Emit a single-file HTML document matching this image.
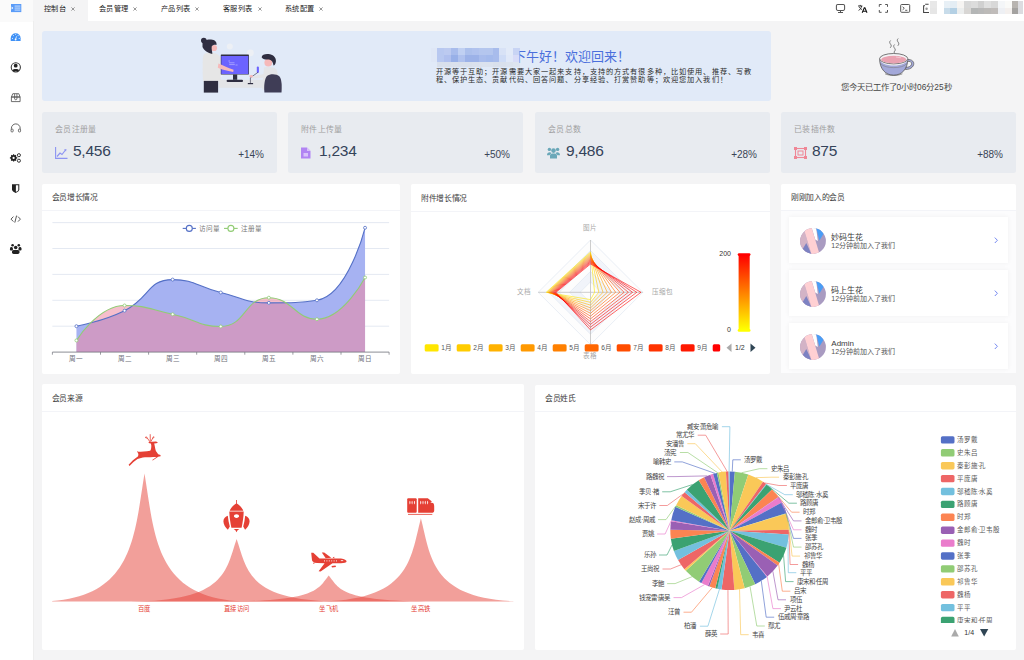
<!DOCTYPE html>
<html lang="zh-CN"><head><meta charset="utf-8"><style>
*{margin:0;padding:0;box-sizing:border-box}
html,body{width:1024px;height:660px;overflow:hidden;background:#f4f4f5;font-family:'Liberation Sans',sans-serif;color:#303133;font-weight:350}
.a{position:absolute;white-space:nowrap}
.card{position:absolute;background:#fff;border-radius:2px}
.stat{position:absolute;background:#e8ebf0;border-radius:2.5px}
.ttl{position:absolute;font-size:7.8px;letter-spacing:-0.32px;color:#3d3d3d;line-height:1}
.sep{position:absolute;height:1px;background:#f3f4f8}
svg{position:absolute;overflow:visible}
</style></head><body>
<div class="a" style="left:0;top:0;width:33.5px;height:660px;background:#fff;border-right:0.5px solid #eeeeee"></div>
<div class="a" style="left:0;top:0;width:33px;height:22px;background:#fafafa"></div>
<svg style="left:10.6px;top:3.8px" width="11" height="9" viewBox="0 0 11 9"><rect x="0" y="0" width="10.3" height="8.1" fill="#5a9cf8"/><rect x="3.6" y="1.6" width="5.8" height="0.9" fill="#d6e7fd"/><rect x="3.6" y="3.6" width="5.8" height="0.9" fill="#d6e7fd"/><rect x="3.6" y="5.6" width="5.8" height="0.9" fill="#d6e7fd"/><path d="M0.6 2.6 L2.3 4.05 L0.6 5.5Z" fill="#fff"/></svg>
<div class="a" style="left:33px;top:0;width:991px;height:21px;background:#fff"></div>
<div class="a" style="left:33px;top:0;width:55px;height:21px;background:#f4f4f5"></div>
<div class="a" style="left:44px;top:1.8px;font-size:7.2px;letter-spacing:0.4px;line-height:14px;color:#222;font-weight:400">控制台</div>
<svg style="left:70.6px;top:7px" width="4" height="4" viewBox="0 0 4 4"><path d="M0.4 0.4 L3.6 3.6 M3.6 0.4 L0.4 3.6" stroke="#777" stroke-width="0.75"/></svg>
<div class="a" style="left:99px;top:1.8px;font-size:7.2px;letter-spacing:0.4px;line-height:14px;color:#222;font-weight:400">会员管理</div>
<svg style="left:132.8px;top:7px" width="4" height="4" viewBox="0 0 4 4"><path d="M0.4 0.4 L3.6 3.6 M3.6 0.4 L0.4 3.6" stroke="#777" stroke-width="0.75"/></svg>
<div class="a" style="left:161px;top:1.8px;font-size:7.2px;letter-spacing:0.4px;line-height:14px;color:#222;font-weight:400">产品列表</div>
<svg style="left:195px;top:7px" width="4" height="4" viewBox="0 0 4 4"><path d="M0.4 0.4 L3.6 3.6 M3.6 0.4 L0.4 3.6" stroke="#777" stroke-width="0.75"/></svg>
<div class="a" style="left:223px;top:1.8px;font-size:7.2px;letter-spacing:0.4px;line-height:14px;color:#222;font-weight:400">客服列表</div>
<svg style="left:257.7px;top:7px" width="4" height="4" viewBox="0 0 4 4"><path d="M0.4 0.4 L3.6 3.6 M3.6 0.4 L0.4 3.6" stroke="#777" stroke-width="0.75"/></svg>
<div class="a" style="left:285px;top:1.8px;font-size:7.2px;letter-spacing:0.4px;line-height:14px;color:#222;font-weight:400">系统配置</div>
<svg style="left:319px;top:7px" width="4" height="4" viewBox="0 0 4 4"><path d="M0.4 0.4 L3.6 3.6 M3.6 0.4 L0.4 3.6" stroke="#777" stroke-width="0.75"/></svg>
<svg style="left:0;top:0" width="33" height="260" viewBox="0 0 33 260"><path d="M10.7 41 L10.7 38.2 A4.95 4.95 0 0 1 20.6 38.2 L20.6 41 Z" fill="#3f91f6"/><circle cx="12.4" cy="38.4" r="0.55" fill="#dbeafe"/><circle cx="13.4" cy="35.6" r="0.55" fill="#dbeafe"/><circle cx="15.65" cy="34.5" r="0.55" fill="#dbeafe"/><circle cx="18.1" cy="35.6" r="0.55" fill="#dbeafe"/><circle cx="19.2" cy="38.4" r="0.55" fill="#dbeafe"/><path d="M15.6 39.3 L16.6 36.3" stroke="#e8f1fe" stroke-width="0.8"/><circle cx="15.6" cy="39.5" r="0.9" fill="#fff"/></svg>
<svg style="left:0;top:0" width="33" height="260" viewBox="0 0 33 260"><circle cx="15.8" cy="67.3" r="4.6" fill="none" stroke="#333" stroke-width="1.05"/><circle cx="15.7" cy="65.7" r="1.9" fill="#222"/><path d="M12.6 70.4 C13 68.6 18.6 68.6 19 70.4 C18 71.6 13.6 71.6 12.6 70.4Z" fill="#222"/></svg>
<svg style="left:0;top:0" width="33" height="260" viewBox="0 0 33 260"><path d="M11.4 97 L12.8 93.7 L18.8 93.7 L20.1 97 Z M11.4 97 L20.1 97 L20.1 101.6 L11.4 101.6 Z" fill="none" stroke="#555" stroke-width="0.85"/><path d="M14.6 93.8 L14.6 99 C14.6 100 16.9 100 16.9 99 L16.9 93.8" fill="none" stroke="#555" stroke-width="0.8"/></svg>
<svg style="left:0;top:0" width="33" height="260" viewBox="0 0 33 260"><path d="M11.4 129.5 L11.4 128.3 A4.4 4.4 0 0 1 20.2 128.3 L20.2 129.5" fill="none" stroke="#555" stroke-width="0.9"/><rect x="11" y="129" width="2.2" height="3" rx="1" fill="none" stroke="#555" stroke-width="0.8"/><rect x="18.4" y="129" width="2.2" height="3" rx="1" fill="none" stroke="#555" stroke-width="0.8"/></svg>
<svg style="left:0;top:0" width="33" height="260" viewBox="0 0 33 260"><g fill="#222"><circle cx="13.6" cy="157.9" r="2.9"/><path d="M13 154.2 L14.2 154.2 L14.2 161.6 L13 161.6Z M9.9 157.3 L17.3 157.3 L17.3 158.5 L9.9 158.5Z" /><path d="M10.9 155.6 L11.7 154.8 L16.4 160.2 L15.6 161Z M16.3 155.6 L15.5 154.8 L10.8 160.2 L11.6 161Z"/></g><circle cx="13.6" cy="157.9" r="1.1" fill="#fff"/><circle cx="18.9" cy="155.2" r="1.55" fill="none" stroke="#333" stroke-width="1"/><circle cx="18.9" cy="160.7" r="1.55" fill="none" stroke="#333" stroke-width="1"/></svg>
<svg style="left:0;top:0" width="33" height="260" viewBox="0 0 33 260"><path d="M12 184.2 L19.3 184.2 L19.3 189.5 C19.3 191 17.5 192.2 15.65 192.9 C13.8 192.2 12 191 12 189.5Z" fill="#222"/><path d="M15.9 185.3 L18.3 185.3 L18.3 189.4 C18.3 190.4 17.2 191.3 15.9 191.8Z" fill="#fff"/></svg>
<svg style="left:0;top:0" width="33" height="260" viewBox="0 0 33 260"><path d="M13.4 216.6 L11 219.1 L13.4 221.6 M18 216.6 L20.4 219.1 L18 221.6 M16.6 215.6 L14.8 222.6" fill="none" stroke="#444" stroke-width="0.9"/></svg>
<svg style="left:0;top:0" width="33" height="260" viewBox="0 0 33 260"><g fill="#222"><circle cx="12.6" cy="245.2" r="1.3"/><circle cx="18.8" cy="245.2" r="1.3"/><circle cx="15.7" cy="247.5" r="1.75"/><circle cx="11.4" cy="248.4" r="1.4"/><circle cx="20" cy="248.4" r="1.4"/><rect x="12" y="250" width="7.5" height="3.9" rx="1.6"/><rect x="9.9" y="248.2" width="3" height="2.2" rx="1"/><rect x="18.5" y="248.2" width="3" height="2.2" rx="1"/></g></svg>
<svg style="left:0;top:0" width="1024" height="22" viewBox="0 0 1024 22"><g fill="none" stroke="#555" stroke-width="1.05"><rect x="836.4" y="4.4" width="8.2" height="6" rx="1.3"/><path d="M840.5 10.4 L840.5 12.2"/></g><path d="M838 12.5 L843 12.5" stroke="#444" stroke-width="0.9"/><path d="M858 6 L862.4 6 M860.2 4.9 L860.2 6 M858.6 10.4 C860.3 9.4 861.4 7.6 861.6 6 M859.2 7.2 C860 8.5 861 9.2 862 9.5" fill="none" stroke="#222" stroke-width="0.9"/><path d="M862.2 12.8 L864.3 7.8 L864.9 7.8 L867 12.8 M863 11.2 L866.2 11.2" fill="none" stroke="#111" stroke-width="1.1"/><path d="M879.3 6.8 L879.3 4.5 L881.6 4.5 M885.2 4.5 L887.5 4.5 L887.5 6.8 M887.5 10 L887.5 12.3 L885.2 12.3 M881.6 12.3 L879.3 12.3 L879.3 10" fill="none" stroke="#555" stroke-width="1"/><rect x="900.7" y="4.5" width="9" height="7.8" rx="0.9" fill="none" stroke="#555" stroke-width="1"/><path d="M902.6 6.8 L904.3 8.3 L902.6 9.8 M905.2 10.3 L907.3 10.3" fill="none" stroke="#333" stroke-width="0.8"/><path d="M923.6 5.6 L923.6 12.4 L929 12.4 M923.6 5.6 L924.8 5.6 M925.2 4.2 L928.6 4.2" fill="none" stroke="#444" stroke-width="1.05"/><circle cx="926.6" cy="8.7" r="1.2" fill="#999"/></svg>
<div class="a" style="left:930px;top:1px;width:7.1px;height:6.6px;background:#e8e8e8"></div>
<div class="a" style="left:930px;top:7.5px;width:7.1px;height:6.6px;background:#e6e6e6"></div>
<div class="a" style="left:936.8px;top:1px;width:7.1px;height:6.6px;background:#ffffff"></div>
<div class="a" style="left:936.8px;top:7.5px;width:7.1px;height:6.6px;background:#ffffff"></div>
<div class="a" style="left:943.6px;top:1px;width:7.1px;height:6.6px;background:#e8f0f6"></div>
<div class="a" style="left:943.6px;top:7.5px;width:7.1px;height:6.6px;background:#c8dcea"></div>
<div class="a" style="left:950.4px;top:1px;width:7.1px;height:6.6px;background:#e4edf4"></div>
<div class="a" style="left:950.4px;top:7.5px;width:7.1px;height:6.6px;background:#b4d0e4"></div>
<div class="a" style="left:957.2px;top:1px;width:7.1px;height:6.6px;background:#f6f4f2"></div>
<div class="a" style="left:957.2px;top:7.5px;width:7.1px;height:6.6px;background:#eceeee"></div>
<div class="a" style="left:964px;top:1px;width:7.1px;height:6.6px;background:#d8d8d8"></div>
<div class="a" style="left:964px;top:7.5px;width:7.1px;height:6.6px;background:#d8d6d4"></div>
<div class="a" style="left:970.8px;top:1px;width:7.1px;height:6.6px;background:#dcdcdc"></div>
<div class="a" style="left:970.8px;top:7.5px;width:7.1px;height:6.6px;background:#b4b6b6"></div>
<div class="a" style="left:977.6px;top:1px;width:7.1px;height:6.6px;background:#d0d0d0"></div>
<div class="a" style="left:977.6px;top:7.5px;width:7.1px;height:6.6px;background:#b8b8b8"></div>
<div class="a" style="left:984.4px;top:1px;width:7.1px;height:6.6px;background:#e0e0e0"></div>
<div class="a" style="left:984.4px;top:7.5px;width:7.1px;height:6.6px;background:#bcbab8"></div>
<div class="a" style="left:991.2px;top:1px;width:7.1px;height:6.6px;background:#d8d8d8"></div>
<div class="a" style="left:991.2px;top:7.5px;width:7.1px;height:6.6px;background:#c0bcba"></div>
<div class="a" style="left:998px;top:1px;width:7.1px;height:6.6px;background:#f4f6f8"></div>
<div class="a" style="left:998px;top:7.5px;width:7.1px;height:6.6px;background:#eef0f4"></div>
<div class="a" style="left:1004.8px;top:1px;width:7.1px;height:6.6px;background:#fafaf8"></div>
<div class="a" style="left:1004.8px;top:7.5px;width:7.1px;height:6.6px;background:#f4f0ee"></div>
<div class="a" style="left:1011.6px;top:1px;width:7.1px;height:6.6px;background:#b8b4b0"></div>
<div class="a" style="left:1011.6px;top:7.5px;width:7.1px;height:6.6px;background:#a4a2a0"></div>
<div class="a" style="left:1018.4px;top:1px;width:4.8px;height:6.6px;background:#dcdce0"></div>
<div class="a" style="left:1018.4px;top:7.5px;width:4.8px;height:6.6px;background:#dcdce0"></div>
<div class="a" style="left:42px;top:31px;width:729px;height:69.5px;background:#e1eaf8;border-radius:3px"></div>
<svg style="left:195px;top:35px" width="95" height="62" viewBox="195 35 95 62">
<circle cx="229.8" cy="46.4" r="3" fill="#edf0f5"/>
<circle cx="250.4" cy="52.8" r="3.4" fill="#edf0f5"/>
<circle cx="220.2" cy="74.5" r="2.6" fill="#edf0f5"/>
<rect x="218.6" y="79.8" width="45.6" height="8" fill="#e3e4e7"/>
<path d="M203.3 66 L206 66 L206.2 76.7 L203.6 76.7Z" fill="#f6b9b9"/>
<path d="M204.5 53.8 C207 52.6 212 52.5 216 53.6 C219 54.8 220.6 57 220.8 60 L220.6 81.4 L203 81.4 C202.6 74 202.4 66 202.8 59 C203 56.5 203.5 54.8 204.5 53.8Z" fill="#e6e6e6"/>
<path d="M203.8 80.9 L218.1 80.9 L218.1 92.6 L203.8 92.6Z" fill="#2f2e41"/>
<rect x="220.8" y="54.4" width="28.1" height="20.1" rx="0.6" fill="#2f2e41"/>
<rect x="221.3" y="56" width="27" height="18" fill="#6c63ff"/>
<path d="M228.4 61 L230 61 M229 62.8 L234.5 62.8 M229.2 64.6 L234.8 64.6 M235.5 65 L237.6 65" stroke="#cfcbff" stroke-width="0.55"/>
<path d="M218.4 63.5 C222 65 228 68 233.6 69.8 L233.2 72 C227 71 221 69.5 217.8 67.8Z" fill="#f6b9b9"/>
<rect x="233" y="74.5" width="4.2" height="5.3" fill="#2f2e41"/>
<rect x="226.6" y="79.8" width="16.4" height="2.2" rx="1" fill="#2f2e41"/>
<circle cx="203.8" cy="40.6" r="2.8" fill="#2f2e41"/>
<circle cx="214" cy="48" r="3.1" fill="#f6b9b9"/>
<path d="M202.5 44 C203 40.5 207 39.3 211 39.6 C215 40 217 42 216.5 45 C215 44.5 212.5 44.8 211.7 46.5 C211.3 49 212.5 52 212.3 53.9 C208 53 204 50.5 202.5 47 Z" fill="#2f2e41"/>
<rect x="256.8" y="66.6" width="2.1" height="6.4" rx="1" fill="#6c63ff"/>
<path d="M257.9 72.4 L250.4 77.7 L250.4 83.5" stroke="#2f2e41" stroke-width="0.6" fill="none"/>
<rect x="247.8" y="83" width="5.3" height="1.2" fill="#2f2e41"/>
<path d="M264 67.5 C268 66.6 274 67 276.5 69.5 C278 72 278.2 80 278 89.4 L262.1 89.4 Z" fill="#e3e4e7"/>
<path d="M266 73.5 L252.6 76.4 L252.8 78.6 L266.5 77.5Z" fill="#e3e4e7"/>
<path d="M249.4 75.8 C250.4 74.6 252.6 74.8 253 76.4 C252.6 77.8 250.4 78 249.4 76.8Z" fill="#f6b9b9"/>
<circle cx="268.3" cy="62.6" r="3.9" fill="#f6b9b9"/>
<path d="M261.6 57.2 C262 54.3 266 53.3 270 54.2 C274 55 276.3 58 275.9 61.5 C275.6 64 274.5 65.5 273.5 65.5 C273 62.5 272 60 269 59.5 C266 59.6 263 59.5 261.6 57.2Z" fill="#2f2e41"/>
<path d="M264.4 92.6 C263.8 86 264.4 79 267 76 C270 73.5 276.5 73.5 279.5 76.5 C281.8 79.5 282 86 281.5 92.6Z" fill="#3f3d56"/>
</svg>
<div class="a" style="left:437.3px;top:48.3px;width:7.2px;height:7px;background:#b8c8f0"></div>
<div class="a" style="left:437.3px;top:55.2px;width:7.2px;height:6.6px;background:#b8c8f0"></div>
<div class="a" style="left:437.3px;top:61.7px;width:7.2px;height:5.6px;background:#d9e0ec"></div>
<div class="a" style="left:444.2px;top:48.3px;width:7.2px;height:7px;background:#bccaf0"></div>
<div class="a" style="left:444.2px;top:55.2px;width:7.2px;height:6.6px;background:#b0c0ee"></div>
<div class="a" style="left:444.2px;top:61.7px;width:7.2px;height:5.6px;background:#d9e0ec"></div>
<div class="a" style="left:451.1px;top:48.3px;width:7.2px;height:7px;background:#a8bcec"></div>
<div class="a" style="left:451.1px;top:55.2px;width:7.2px;height:6.6px;background:#98b0e8"></div>
<div class="a" style="left:451.1px;top:61.7px;width:7.2px;height:5.6px;background:#dae1ed"></div>
<div class="a" style="left:458px;top:48.3px;width:7.2px;height:7px;background:#c0d0f2"></div>
<div class="a" style="left:458px;top:55.2px;width:7.2px;height:6.6px;background:#b0c2ee"></div>
<div class="a" style="left:458px;top:61.7px;width:7.2px;height:5.6px;background:#d9e0ec"></div>
<div class="a" style="left:464.9px;top:48.3px;width:7.2px;height:7px;background:#acc0ec"></div>
<div class="a" style="left:464.9px;top:55.2px;width:7.2px;height:6.6px;background:#9cb2e8"></div>
<div class="a" style="left:464.9px;top:61.7px;width:7.2px;height:5.6px;background:#d9e0ec"></div>
<div class="a" style="left:471.8px;top:48.3px;width:7.2px;height:7px;background:#b0c2ee"></div>
<div class="a" style="left:471.8px;top:55.2px;width:7.2px;height:6.6px;background:#9cb2e8"></div>
<div class="a" style="left:471.8px;top:61.7px;width:7.2px;height:5.6px;background:#dae1ed"></div>
<div class="a" style="left:478.7px;top:48.3px;width:7.2px;height:7px;background:#b4c6ee"></div>
<div class="a" style="left:478.7px;top:55.2px;width:7.2px;height:6.6px;background:#a8bcec"></div>
<div class="a" style="left:478.7px;top:61.7px;width:7.2px;height:5.6px;background:#dbe2ee"></div>
<div class="a" style="left:485.6px;top:48.3px;width:7.2px;height:7px;background:#b4c6ee"></div>
<div class="a" style="left:485.6px;top:55.2px;width:7.2px;height:6.6px;background:#a4baec"></div>
<div class="a" style="left:485.6px;top:61.7px;width:7.2px;height:5.6px;background:#dbe2ee"></div>
<div class="a" style="left:492.5px;top:48.3px;width:7.2px;height:7px;background:#a8bcec"></div>
<div class="a" style="left:492.5px;top:55.2px;width:7.2px;height:6.6px;background:#a8bcec"></div>
<div class="a" style="left:492.5px;top:61.7px;width:7.2px;height:5.6px;background:#d9e0ec"></div>
<div class="a" style="left:499.4px;top:48.3px;width:7.2px;height:7px;background:#d8e2f6"></div>
<div class="a" style="left:499.4px;top:55.2px;width:7.2px;height:6.6px;background:#cfdcf6"></div>
<div class="a" style="left:499.4px;top:61.7px;width:7.2px;height:5.6px;background:#d9e0ec"></div>
<div class="a" style="left:506.3px;top:48.3px;width:7.2px;height:7px;background:#e2eaf8"></div>
<div class="a" style="left:506.3px;top:55.2px;width:7.2px;height:6.6px;background:#e0e8f8"></div>
<div class="a" style="left:506.3px;top:61.7px;width:7.2px;height:5.6px;background:#dbe2ee"></div>
<div class="a" style="left:513.2px;top:48.3px;width:7.2px;height:7px;background:#c8d4f4"></div>
<div class="a" style="left:513.2px;top:55.2px;width:7.2px;height:6.6px;background:#d8dcf8"></div>
<div class="a" style="left:513.2px;top:61.7px;width:7.2px;height:5.6px;background:#dde4f0"></div>
<div class="a" style="left:431px;top:48.3px;width:6.3px;height:13.5px;background:#dfe7f6"></div>
<div class="a" style="left:512.5px;top:48.6px;font-size:13px;line-height:16px;color:#4a6fdc;clip-path:inset(0 0 0 7px)">下午好！欢迎回来！</div>
<div class="a" style="left:435.5px;top:68.3px;font-size:7.2px;letter-spacing:1.12px;line-height:7.9px;color:#2a2a2a">开源等于互助；开源需要大家一起来支持，支持的方式有很多种，比如使用、推荐、写教<br>程、保护生态、贡献代码、回答问题、分享经验、打赏赞助等；欢迎您加入我们！</div>
<svg style="left:876px;top:36px" width="42" height="42" viewBox="876 36 42 42">
<path d="M890.6 40.5 C889.2 41.8 889.6 43 890.6 44.2 C891.6 45.4 891.4 46.6 890.2 47.8" fill="none" stroke="#555" stroke-width="0.75"/>
<path d="M894.6 44.5 C893.2 45.8 893.6 47 894.6 48.2 C895.6 49.4 895.4 50.6 894.2 51.8 L894.2 53" fill="none" stroke="#555" stroke-width="0.75"/>
<path d="M898.2 38.5 C896.8 39.8 897.2 41 898.2 42.2 C899.2 43.4 899 44.6 897.8 45.8" fill="none" stroke="#555" stroke-width="0.75"/>
<path d="M904.5 60.8 C906.5 58.9 911.8 58.8 913.5 62.2 C914.8 65.5 911.5 69.6 905.5 69.5 L905.8 67.3 C910 67.4 912.2 65 911.4 62.8 C910.6 60.8 907.5 61 905.6 62.6Z" fill="#a3a8d9" stroke="#555" stroke-width="0.7"/>
<path d="M879.6 59 C879.8 69 885.5 75.2 893.7 75.2 C901.9 75.2 907.6 69 907.8 59Z" fill="#a3a8d9" stroke="#555" stroke-width="0.8"/>
<path d="M879.6 59 C880 63 886 65.5 893.7 65.5 C901.4 65.5 907.4 63 907.8 59Z" fill="#f4f4f6"/>
<ellipse cx="893.7" cy="58.7" rx="14.1" ry="5.2" fill="#f4f4f6" stroke="#555" stroke-width="0.8"/>
<ellipse cx="893.7" cy="59.6" rx="12.6" ry="3.8" fill="#e9a2b1"/>
<path d="M896 57 L901 57.8" stroke="#f7d6de" stroke-width="0.7"/>
<path d="M880.5 63.5 C883 66.5 888 67.6 893.7 67.6 C899.4 67.6 904.4 66.5 906.9 63.5" fill="none" stroke="#777" stroke-width="0.5"/>
<path d="M885 73.8 C890 76 897.5 76 902.4 73.8" fill="none" stroke="#555" stroke-width="0.6"/>
</svg>
<div class="a" style="left:840.5px;top:82px;font-size:8.3px;line-height:10px;color:#444">您今天已工作了0小时06分25秒</div>
<div class="stat" style="left:42px;top:112px;width:235px;height:60.5px"></div>
<div class="a" style="left:55px;top:125px;font-size:7.9px;letter-spacing:0.36px;line-height:10px;color:#a0a0a0">会员注册量</div>
<div class="a" style="left:73px;top:141.8px;font-size:15.5px;letter-spacing:-0.25px;line-height:18px;color:#34435a">5,456</div>
<div class="a" style="left:237px;top:148.5px;font-size:10px;line-height:12px;color:#3a4556;width:27px;text-align:right">+14%</div>
<div class="stat" style="left:288px;top:112px;width:235px;height:60.5px"></div>
<div class="a" style="left:301px;top:125px;font-size:7.9px;letter-spacing:0.36px;line-height:10px;color:#a0a0a0">附件上传量</div>
<div class="a" style="left:319px;top:141.8px;font-size:15.5px;letter-spacing:-0.25px;line-height:18px;color:#34435a">1,234</div>
<div class="a" style="left:483px;top:148.5px;font-size:10px;line-height:12px;color:#3a4556;width:27px;text-align:right">+50%</div>
<div class="stat" style="left:535px;top:112px;width:235px;height:60.5px"></div>
<div class="a" style="left:548px;top:125px;font-size:7.9px;letter-spacing:0.36px;line-height:10px;color:#a0a0a0">会员总数</div>
<div class="a" style="left:566px;top:141.8px;font-size:15.5px;letter-spacing:-0.25px;line-height:18px;color:#34435a">9,486</div>
<div class="a" style="left:730px;top:148.5px;font-size:10px;line-height:12px;color:#3a4556;width:27px;text-align:right">+28%</div>
<div class="stat" style="left:781px;top:112px;width:235px;height:60.5px"></div>
<div class="a" style="left:794px;top:125px;font-size:7.9px;letter-spacing:0.36px;line-height:10px;color:#a0a0a0">已装插件数</div>
<div class="a" style="left:812px;top:141.8px;font-size:15.5px;letter-spacing:-0.25px;line-height:18px;color:#34435a">875</div>
<div class="a" style="left:976px;top:148.5px;font-size:10px;line-height:12px;color:#3a4556;width:27px;text-align:right">+88%</div>
<svg style="left:55px;top:147px" width="13" height="12" viewBox="0 0 13 12"><path d="M0.6 0 L0.6 11.4 L12.5 11.4" fill="none" stroke="#8d94f2" stroke-width="1.1"/><path d="M2 9.5 L5 6 L7 7.5 L10.5 3" fill="none" stroke="#8d94f2" stroke-width="1.2"/><path d="M9 2.5 L11.5 2 L11 4.5Z" fill="#8d94f2"/></svg>
<svg style="left:301px;top:147px" width="10" height="12" viewBox="0 0 10 12"><path d="M0 0.5 L6 0.5 L9.5 4 L9.5 11.5 L0 11.5Z" fill="#b184f3"/><path d="M6 0.5 L6 4 L9.5 4" fill="#d9c2fa"/><rect x="2.5" y="6" width="4.5" height="3.5" fill="#d9c2fa"/></svg>
<svg style="left:547px;top:146.5px" width="13" height="12" viewBox="0 0 13 12"><circle cx="6.5" cy="3.6" r="2.3" fill="#6aa7b8"/><circle cx="2.4" cy="2.4" r="1.7" fill="#6aa7b8"/><circle cx="10.6" cy="2.4" r="1.7" fill="#6aa7b8"/><path d="M3 11.5 L3 8.3 C3 6 10 6 10 8.3 L10 11.5Z" fill="#6aa7b8"/><path d="M0 8.2 C0 5.2 3 4.8 4.5 6 L2.5 8.2Z" fill="#6aa7b8"/><path d="M13 8.2 C13 5.2 10 4.8 8.5 6 L10.5 8.2Z" fill="#6aa7b8"/></svg>
<svg style="left:794px;top:147px" width="13" height="12" viewBox="0 0 13 12"><rect x="1.5" y="1.5" width="10" height="9" fill="none" stroke="#ef8696" stroke-width="1.1"/><rect x="0" y="0" width="3" height="3" fill="#ef8696"/><rect x="10" y="0" width="3" height="3" fill="#ef8696"/><rect x="0" y="9" width="3" height="3" fill="#ef8696"/><rect x="10" y="9" width="3" height="3" fill="#ef8696"/><rect x="4" y="4" width="5" height="4" fill="none" stroke="#ef8696" stroke-width="1"/></svg>
<div class="card" style="left:41.5px;top:183.5px;width:358.5px;height:190px"></div>
<div class="ttl a" style="left:51.6px;top:194.3px">会员增长情况</div>
<div class="sep" style="left:41.5px;top:210px;width:358.5px"></div>
<div class="card" style="left:411px;top:184px;width:359px;height:189.5px"></div>
<div class="ttl a" style="left:421.1px;top:194.8px">附件增长情况</div>
<div class="sep" style="left:411px;top:210.5px;width:359px"></div>
<div class="card" style="left:781px;top:183.5px;width:235px;height:189.5px"></div>
<div class="ttl a" style="left:791.1px;top:194.3px">刚刚加入的会员</div>
<div class="sep" style="left:781px;top:210px;width:235px"></div>
<div class="card" style="left:41.5px;top:384px;width:482.5px;height:265.5px"></div>
<div class="ttl a" style="left:51.6px;top:394.8px">会员来源</div>
<div class="sep" style="left:41.5px;top:410.5px;width:482.5px"></div>
<div class="card" style="left:535px;top:384.5px;width:481px;height:265px"></div>
<div class="ttl a" style="left:545.1px;top:395.3px">会员姓氏</div>
<div class="sep" style="left:535px;top:411px;width:481px"></div>
<svg style="left:0;top:0" width="1024" height="660" viewBox="0 0 1024 660">
<path d="M52.4 326.2 L389.1 326.2" stroke="#dfe5f0" stroke-width="0.85"/>
<path d="M52.4 300.3 L389.1 300.3" stroke="#dfe5f0" stroke-width="0.85"/>
<path d="M52.4 274.4 L389.1 274.4" stroke="#dfe5f0" stroke-width="0.85"/>
<path d="M52.4 248.5 L389.1 248.5" stroke="#dfe5f0" stroke-width="0.85"/>
<path d="M52.4 222.6 L389.1 222.6" stroke="#dfe5f0" stroke-width="0.85"/>
<path d="M76.45 326.2 C76.45 326.2 102 321.59 124.55 310.66 C150.1 298.28 146.93 279.58 172.65 279.58 C195.03 279.58 196.55 286.67 220.75 292.53 C244.65 298.32 244.54 302.89 268.85 302.89 C292.64 302.89 299.81 302.89 316.95 300.3 C347.91 295.62 365.05 227.78 365.05 227.78 L365.05 352.1 L76.45 352.1Z" fill="#a6b2f2"/>
<path d="M76.45 340.44 C76.45 340.44 98.15 305.48 124.55 305.48 C146.25 305.48 148.78 309.08 172.65 314.29 C196.88 319.57 198.16 326.46 220.75 326.46 C246.26 326.46 244.06 297.71 268.85 297.71 C292.16 297.71 295.17 319.21 316.95 319.21 C343.27 319.21 365.05 277.51 365.05 277.51 L365.05 352.1 L76.45 352.1Z" fill="rgb(238,135,160)" fill-opacity="0.54"/>
<path d="M76.45 326.2 C76.45 326.2 102 321.59 124.55 310.66 C150.1 298.28 146.93 279.58 172.65 279.58 C195.03 279.58 196.55 286.67 220.75 292.53 C244.65 298.32 244.54 302.89 268.85 302.89 C292.64 302.89 299.81 302.89 316.95 300.3 C347.91 295.62 365.05 227.78 365.05 227.78" fill="none" stroke="#5470c6" stroke-width="1.1"/>
<path d="M76.45 340.44 C76.45 340.44 98.15 305.48 124.55 305.48 C146.25 305.48 148.78 309.08 172.65 314.29 C196.88 319.57 198.16 326.46 220.75 326.46 C246.26 326.46 244.06 297.71 268.85 297.71 C292.16 297.71 295.17 319.21 316.95 319.21 C343.27 319.21 365.05 277.51 365.05 277.51" fill="none" stroke="#91cc75" stroke-width="1.1"/>
<circle cx="76.45" cy="326.2" r="1.5" fill="#fff" stroke="#5470c6" stroke-width="0.8"/>
<circle cx="124.55" cy="310.66" r="1.5" fill="#fff" stroke="#5470c6" stroke-width="0.8"/>
<circle cx="172.65" cy="279.58" r="1.5" fill="#fff" stroke="#5470c6" stroke-width="0.8"/>
<circle cx="220.75" cy="292.53" r="1.5" fill="#fff" stroke="#5470c6" stroke-width="0.8"/>
<circle cx="268.85" cy="302.89" r="1.5" fill="#fff" stroke="#5470c6" stroke-width="0.8"/>
<circle cx="316.95" cy="300.3" r="1.5" fill="#fff" stroke="#5470c6" stroke-width="0.8"/>
<circle cx="365.05" cy="227.78" r="1.5" fill="#fff" stroke="#5470c6" stroke-width="0.8"/>
<circle cx="76.45" cy="340.44" r="1.5" fill="#fff" stroke="#91cc75" stroke-width="0.8"/>
<circle cx="124.55" cy="305.48" r="1.5" fill="#fff" stroke="#91cc75" stroke-width="0.8"/>
<circle cx="172.65" cy="314.29" r="1.5" fill="#fff" stroke="#91cc75" stroke-width="0.8"/>
<circle cx="220.75" cy="326.46" r="1.5" fill="#fff" stroke="#91cc75" stroke-width="0.8"/>
<circle cx="268.85" cy="297.71" r="1.5" fill="#fff" stroke="#91cc75" stroke-width="0.8"/>
<circle cx="316.95" cy="319.21" r="1.5" fill="#fff" stroke="#91cc75" stroke-width="0.8"/>
<circle cx="365.05" cy="277.51" r="1.5" fill="#fff" stroke="#91cc75" stroke-width="0.8"/>
<path d="M52.4 352.1 L389.1 352.1" stroke="#6e7079" stroke-width="0.8"/>
<path d="M52.4 352.1 L52.4 354.7" stroke="#6e7079" stroke-width="0.7"/>
<path d="M100.5 352.1 L100.5 354.7" stroke="#6e7079" stroke-width="0.7"/>
<path d="M148.6 352.1 L148.6 354.7" stroke="#6e7079" stroke-width="0.7"/>
<path d="M196.7 352.1 L196.7 354.7" stroke="#6e7079" stroke-width="0.7"/>
<path d="M244.8 352.1 L244.8 354.7" stroke="#6e7079" stroke-width="0.7"/>
<path d="M292.9 352.1 L292.9 354.7" stroke="#6e7079" stroke-width="0.7"/>
<path d="M341 352.1 L341 354.7" stroke="#6e7079" stroke-width="0.7"/>
<path d="M389.1 352.1 L389.1 354.7" stroke="#6e7079" stroke-width="0.7"/>
<path d="M182.7 228.4 L195.9 228.4" stroke="#5470c6" stroke-width="1.1"/><circle cx="189.3" cy="228.4" r="3" fill="#fff" stroke="#5470c6" stroke-width="1.1"/>
<path d="M224 228.4 L237.7 228.4" stroke="#91cc75" stroke-width="1.1"/><circle cx="230.9" cy="228.4" r="3" fill="#fff" stroke="#91cc75" stroke-width="1.1"/>
</svg>
<div class="a" style="left:199px;top:224.5px;font-size:6.6px;line-height:8px;color:#777">访问量</div>
<div class="a" style="left:240.7px;top:224.5px;font-size:6.6px;line-height:8px;color:#777">注册量</div>
<div class="a" style="left:64.45px;top:354.5px;width:24px;text-align:center;font-size:6.6px;line-height:8px;color:#6e7079">周一</div>
<div class="a" style="left:112.55px;top:354.5px;width:24px;text-align:center;font-size:6.6px;line-height:8px;color:#6e7079">周二</div>
<div class="a" style="left:160.65px;top:354.5px;width:24px;text-align:center;font-size:6.6px;line-height:8px;color:#6e7079">周三</div>
<div class="a" style="left:208.75px;top:354.5px;width:24px;text-align:center;font-size:6.6px;line-height:8px;color:#6e7079">周四</div>
<div class="a" style="left:256.85px;top:354.5px;width:24px;text-align:center;font-size:6.6px;line-height:8px;color:#6e7079">周五</div>
<div class="a" style="left:304.95px;top:354.5px;width:24px;text-align:center;font-size:6.6px;line-height:8px;color:#6e7079">周六</div>
<div class="a" style="left:353.05px;top:354.5px;width:24px;text-align:center;font-size:6.6px;line-height:8px;color:#6e7079">周日</div>
<svg style="left:0;top:0" width="1024" height="660" viewBox="0 0 1024 660">
<path d="M590.5 240 L538.2 292.3 L590.5 344.6 L642.8 292.3Z" fill="#fff"/>
<path d="M590.5 240 L538.2 292.3 L590.5 344.6 L642.8 292.3Z M590.5 250.46 L548.66 292.3 L590.5 334.14 L632.34 292.3Z" fill="rgba(250,250,250,0.3)" fill-rule="evenodd"/>
<path d="M590.5 250.46 L548.66 292.3 L590.5 334.14 L632.34 292.3Z M590.5 260.92 L559.12 292.3 L590.5 323.68 L621.88 292.3Z" fill="rgba(210,219,238,0.3)" fill-rule="evenodd"/>
<path d="M590.5 260.92 L559.12 292.3 L590.5 323.68 L621.88 292.3Z M590.5 271.38 L569.58 292.3 L590.5 313.22 L611.42 292.3Z" fill="rgba(250,250,250,0.3)" fill-rule="evenodd"/>
<path d="M590.5 271.38 L569.58 292.3 L590.5 313.22 L611.42 292.3Z M590.5 281.84 L580.04 292.3 L590.5 302.76 L600.96 292.3Z" fill="rgba(210,219,238,0.3)" fill-rule="evenodd"/>
<path d="M590.5 281.84 L580.04 292.3 L590.5 302.76 L600.96 292.3Z " fill="rgba(250,250,250,0.3)" fill-rule="evenodd"/>
<path d="M590.5 281.84 L580.04 292.3 L590.5 302.76 L600.96 292.3Z" fill="none" stroke="#e0e6f1" stroke-width="0.7"/>
<path d="M590.5 271.38 L569.58 292.3 L590.5 313.22 L611.42 292.3Z" fill="none" stroke="#e0e6f1" stroke-width="0.7"/>
<path d="M590.5 260.92 L559.12 292.3 L590.5 323.68 L621.88 292.3Z" fill="none" stroke="#e0e6f1" stroke-width="0.7"/>
<path d="M590.5 250.46 L548.66 292.3 L590.5 334.14 L632.34 292.3Z" fill="none" stroke="#e0e6f1" stroke-width="0.7"/>
<path d="M590.5 240 L538.2 292.3 L590.5 344.6 L642.8 292.3Z" fill="none" stroke="#e0e6f1" stroke-width="0.7"/>
<path d="M590.5 292.3 L590.5 240" stroke="#b8b8b8" stroke-width="0.7"/>
<path d="M590.5 292.3 L538.2 292.3" stroke="#b8b8b8" stroke-width="0.7"/>
<path d="M590.5 292.3 L590.5 344.6" stroke="#b8b8b8" stroke-width="0.7"/>
<path d="M590.5 292.3 L642.8 292.3" stroke="#b8b8b8" stroke-width="0.7"/>
<path d="M590.5 252 L546.2 292.3 L590.5 299.6 L594.6 292.3Z" fill="none" stroke="rgb(255,230,0)" stroke-width="0.75" stroke-opacity="0.8"/>
<path d="M590.5 253.09 L547.09 292.3 L590.5 302.35 L598.82 292.3Z" fill="none" stroke="rgb(255,204,0)" stroke-width="0.75" stroke-opacity="0.8"/>
<path d="M590.5 254.18 L547.98 292.3 L590.5 305.11 L603.04 292.3Z" fill="none" stroke="rgb(255,178,0)" stroke-width="0.75" stroke-opacity="0.8"/>
<path d="M590.5 255.27 L548.87 292.3 L590.5 307.86 L607.25 292.3Z" fill="none" stroke="rgb(255,153,0)" stroke-width="0.75" stroke-opacity="0.8"/>
<path d="M590.5 256.36 L549.76 292.3 L590.5 310.62 L611.47 292.3Z" fill="none" stroke="rgb(255,128,0)" stroke-width="0.75" stroke-opacity="0.8"/>
<path d="M590.5 257.45 L550.65 292.3 L590.5 313.37 L615.69 292.3Z" fill="none" stroke="rgb(255,102,0)" stroke-width="0.75" stroke-opacity="0.8"/>
<path d="M590.5 258.55 L551.55 292.3 L590.5 316.13 L619.91 292.3Z" fill="none" stroke="rgb(255,77,0)" stroke-width="0.75" stroke-opacity="0.8"/>
<path d="M590.5 259.64 L552.44 292.3 L590.5 318.88 L624.13 292.3Z" fill="none" stroke="rgb(255,51,0)" stroke-width="0.75" stroke-opacity="0.8"/>
<path d="M590.5 260.73 L553.33 292.3 L590.5 321.64 L628.35 292.3Z" fill="none" stroke="rgb(255,25,0)" stroke-width="0.75" stroke-opacity="0.8"/>
<path d="M590.5 261.82 L554.22 292.3 L590.5 324.39 L632.56 292.3Z" fill="none" stroke="rgb(255,0,0)" stroke-width="0.75" stroke-opacity="0.8"/>
<path d="M590.5 262.91 L555.11 292.3 L590.5 327.15 L636.78 292.3Z" fill="none" stroke="rgb(255,0,0)" stroke-width="0.75" stroke-opacity="0.8"/>
<path d="M590.5 264 L556 292.3 L590.5 329.9 L641 292.3Z" fill="none" stroke="rgb(255,0,0)" stroke-width="0.75" stroke-opacity="0.8"/>
<defs><linearGradient id="vm" x1="0" y1="0" x2="0" y2="1"><stop offset="0" stop-color="#ff0000"/><stop offset="1" stop-color="#ffff00"/></linearGradient></defs>
<rect x="738.6" y="255" width="11.1" height="74.5" fill="url(#vm)"/>
<rect x="737.7" y="253.2" width="12.8" height="2.8" rx="1.4" fill="#ff0000"/>
<rect x="737.7" y="329" width="12.8" height="2.8" rx="1.4" fill="#ffff00"/>
<rect x="424.7" y="344.3" width="13.9" height="7.2" rx="1.5" fill="rgb(255,230,0)"/>
<rect x="456.7" y="344.3" width="13.9" height="7.2" rx="1.5" fill="rgb(255,204,0)"/>
<rect x="488.7" y="344.3" width="13.9" height="7.2" rx="1.5" fill="rgb(255,178,0)"/>
<rect x="520.7" y="344.3" width="13.9" height="7.2" rx="1.5" fill="rgb(255,153,0)"/>
<rect x="552.7" y="344.3" width="13.9" height="7.2" rx="1.5" fill="rgb(255,128,0)"/>
<rect x="584.7" y="344.3" width="13.9" height="7.2" rx="1.5" fill="rgb(255,102,0)"/>
<rect x="616.7" y="344.3" width="13.9" height="7.2" rx="1.5" fill="rgb(255,77,0)"/>
<rect x="648.7" y="344.3" width="13.9" height="7.2" rx="1.5" fill="rgb(255,51,0)"/>
<rect x="680.7" y="344.3" width="13.9" height="7.2" rx="1.5" fill="rgb(255,25,0)"/>
<rect x="712.7" y="344.3" width="7.5" height="7.2" rx="1.5" fill="rgb(255,0,0)"/>
<path d="M731.5 343.5 L731.5 352 L726.5 347.75Z" fill="#aaa"/>
<path d="M750.5 343.5 L750.5 352 L755.5 347.75Z" fill="#2f4554"/>
</svg>
<div class="a" style="left:441.2px;top:344px;font-size:6.6px;line-height:8px;color:#555">1月</div>
<div class="a" style="left:473.2px;top:344px;font-size:6.6px;line-height:8px;color:#555">2月</div>
<div class="a" style="left:505.2px;top:344px;font-size:6.6px;line-height:8px;color:#555">3月</div>
<div class="a" style="left:537.2px;top:344px;font-size:6.6px;line-height:8px;color:#555">4月</div>
<div class="a" style="left:569.2px;top:344px;font-size:6.6px;line-height:8px;color:#555">5月</div>
<div class="a" style="left:601.2px;top:344px;font-size:6.6px;line-height:8px;color:#555">6月</div>
<div class="a" style="left:633.2px;top:344px;font-size:6.6px;line-height:8px;color:#555">7月</div>
<div class="a" style="left:665.2px;top:344px;font-size:6.6px;line-height:8px;color:#555">8月</div>
<div class="a" style="left:697.2px;top:344px;font-size:6.6px;line-height:8px;color:#555">9月</div>
<div class="a" style="left:735px;top:343.5px;font-size:7px;line-height:8px;color:#333">1/2</div>
<div class="a" style="left:580px;top:224px;width:20px;text-align:center;font-size:6.6px;line-height:8px;color:#a8a8a8">图片</div>
<div class="a" style="left:651.5px;top:288px;font-size:6.6px;line-height:8px;color:#a8a8a8">压缩包</div>
<div class="a" style="left:510px;top:288px;width:21px;text-align:right;font-size:6.6px;line-height:8px;color:#a8a8a8">文档</div>
<div class="a" style="left:580px;top:352px;width:20px;text-align:center;font-size:6.6px;line-height:8px;color:#a8a8a8">表格</div>
<div class="a" style="left:716px;top:250px;width:15px;text-align:right;font-size:7px;line-height:8px;color:#333">200</div>
<div class="a" style="left:716px;top:325.7px;width:15px;text-align:right;font-size:7px;line-height:8px;color:#333">0</div>
<div class="a" style="left:781px;top:211px;width:235px;height:162px;background:#fcfcfd"></div>
<div class="a" style="left:789px;top:217px;width:219px;height:46.3px;background:#fff;box-shadow:0 0 5px rgba(0,0,0,0.05)"></div>
<svg style="left:799.9px;top:227.6px" width="26" height="26" viewBox="0 0 26 26"><defs><clipPath id="av0"><circle cx="13" cy="13" r="12.9"/></clipPath></defs><g clip-path="url(#av0)"><rect width="26" height="26" fill="#a99bc1"/><path d="M0 0 L3.5 0 L11.4 26 L0 26Z" fill="#d3b3c6"/><path d="M11.7 0 L16.2 0 L17.8 13 L15.2 11.5Z" fill="#ffffff"/><path d="M16.2 0 L25 0 L24 5 L19.4 12.6Z" fill="#4a9df6"/><path d="M6.3 15 L11.4 26 L1.5 26 L1.8 22.5Z" fill="#7d82c2"/><path d="M3.5 0 L11.7 0 L19.5 26 L11.4 26Z" fill="#ffd0d3"/></g></svg>
<div class="a" style="left:831.3px;top:232.6px;font-size:8px;line-height:9px;color:#3a3a3a">妙码生花</div>
<div class="a" style="left:831.3px;top:241.9px;font-size:7px;line-height:8px;color:#555">12分钟前加入了我们</div>
<svg style="left:993.5px;top:237.2px" width="5" height="7" viewBox="0 0 5 7"><path d="M0.8 0.6 L3.4 3.3 L0.8 6" fill="none" stroke="#7488f2" stroke-width="1"/></svg>
<div class="a" style="left:789px;top:270px;width:219px;height:46.3px;background:#fff;box-shadow:0 0 5px rgba(0,0,0,0.05)"></div>
<svg style="left:799.9px;top:280.6px" width="26" height="26" viewBox="0 0 26 26"><defs><clipPath id="av1"><circle cx="13" cy="13" r="12.9"/></clipPath></defs><g clip-path="url(#av1)"><rect width="26" height="26" fill="#a99bc1"/><path d="M0 0 L3.5 0 L11.4 26 L0 26Z" fill="#d3b3c6"/><path d="M11.7 0 L16.2 0 L17.8 13 L15.2 11.5Z" fill="#ffffff"/><path d="M16.2 0 L25 0 L24 5 L19.4 12.6Z" fill="#4a9df6"/><path d="M6.3 15 L11.4 26 L1.5 26 L1.8 22.5Z" fill="#7d82c2"/><path d="M3.5 0 L11.7 0 L19.5 26 L11.4 26Z" fill="#ffd0d3"/></g></svg>
<div class="a" style="left:831.3px;top:285.6px;font-size:8px;line-height:9px;color:#3a3a3a">码上生花</div>
<div class="a" style="left:831.3px;top:294.9px;font-size:7px;line-height:8px;color:#555">12分钟前加入了我们</div>
<svg style="left:993.5px;top:290.2px" width="5" height="7" viewBox="0 0 5 7"><path d="M0.8 0.6 L3.4 3.3 L0.8 6" fill="none" stroke="#7488f2" stroke-width="1"/></svg>
<div class="a" style="left:789px;top:323px;width:219px;height:46.3px;background:#fff;box-shadow:0 0 5px rgba(0,0,0,0.05)"></div>
<svg style="left:799.9px;top:333.6px" width="26" height="26" viewBox="0 0 26 26"><defs><clipPath id="av2"><circle cx="13" cy="13" r="12.9"/></clipPath></defs><g clip-path="url(#av2)"><rect width="26" height="26" fill="#a99bc1"/><path d="M0 0 L3.5 0 L11.4 26 L0 26Z" fill="#d3b3c6"/><path d="M11.7 0 L16.2 0 L17.8 13 L15.2 11.5Z" fill="#ffffff"/><path d="M16.2 0 L25 0 L24 5 L19.4 12.6Z" fill="#4a9df6"/><path d="M6.3 15 L11.4 26 L1.5 26 L1.8 22.5Z" fill="#7d82c2"/><path d="M3.5 0 L11.7 0 L19.5 26 L11.4 26Z" fill="#ffd0d3"/></g></svg>
<div class="a" style="left:831.3px;top:338.6px;font-size:8px;line-height:9px;color:#3a3a3a">Admin</div>
<div class="a" style="left:831.3px;top:347.9px;font-size:7px;line-height:8px;color:#555">12分钟前加入了我们</div>
<svg style="left:993.5px;top:343.2px" width="5" height="7" viewBox="0 0 5 7"><path d="M0.8 0.6 L3.4 3.3 L0.8 6" fill="none" stroke="#7488f2" stroke-width="1"/></svg>
<svg style="left:0;top:0" width="1024" height="660" viewBox="0 0 1024 660">
<defs><clipPath id="hc"><rect x="52.2" y="384" width="461.1" height="265.5"/></clipPath></defs><g clip-path="url(#hc)">
<path d="M38.5 601.5 L250.5 601.5 C155.1 601.5 155.1 537.5 144.5 473.5 C133.9 537.5 133.9 601.5 38.5 601.5Z" fill="#e54035" fill-opacity="0.5"/>
<path d="M130.63 601.5 L342.63 601.5 C247.23 601.5 247.23 570.28 236.63 539.06 C226.03 570.28 226.03 601.5 130.63 601.5Z" fill="#e54035" fill-opacity="0.5"/>
<path d="M222.76 601.5 L434.76 601.5 C339.36 601.5 339.36 588.49 328.76 575.48 C318.16 588.49 318.16 601.5 222.76 601.5Z" fill="#e54035" fill-opacity="0.5"/>
<path d="M314.89 601.5 L526.89 601.5 C431.49 601.5 431.49 559.87 420.89 518.25 C410.29 559.87 410.29 601.5 314.89 601.5Z" fill="#e54035" fill-opacity="0.5"/>
</g>
<path d="M136.9 451 L138.4 451.8 C141 451.5 146 451.4 150.2 450.7 C151.2 449.8 151.4 447 151.3 445.2 L150.8 443.5 L148.5 442.9 L149 441.5 L151.9 441.8 L155.9 441.5 L158 442.3 L156.5 443.2 L154.2 443.5 C154.6 445 155 447.5 155.4 449.3 C155.7 450.6 156 451.5 156.6 452.1 L158.2 454.2 L160.5 454.9 L160.6 456.2 L158.2 456.8 L153.1 460.3 L151.9 460.2 L156.5 456.9 C152 456.9 148 457.2 145 457.3 C143.5 457.5 142 457.7 141 457.9 L137.5 459 L133.5 462 L129.5 466 L128.6 464.8 L132.9 460.2 L138.1 456.2 L138.4 453.9 Z" fill="#e54035"/>
<path d="M149.8 441.6 L146.1 436.4 M147.4 438.3 L145 437.4 M150.3 441.4 L150.2 434.2 M151 441.4 L153.6 436.4 M152.7 438.2 L154.4 437.3" stroke="#e54035" stroke-width="0.8" fill="none"/>
<path d="M236.1 500 L236.9 500 L236.9 503.5 C239.5 504.8 242 507.6 243.3 510.7 L229.7 510.7 C231 507.6 233.5 504.8 236.1 503.5Z" fill="#e54035"/>
<path d="M229.3 511.6 L243.7 511.6 C243.6 517 242.6 523 241.6 527.8 L231.4 527.8 C230.4 523 229.4 517 229.3 511.6Z M236.5 514.2 C235 514.2 233.9 515.1 233.9 516.1 C233.9 517.1 235 518 236.5 518 C238 518 239.1 517.1 239.1 516.1 C239.1 515.1 238 514.2 236.5 514.2Z" fill="#e54035" fill-rule="evenodd"/>
<path d="M227.8 515.8 C225.5 516.6 223.4 518.5 223.4 521.3 C223.4 524.3 225.5 527.8 227.9 529.8 L229.8 526.5 C228.8 523 228.2 519.5 227.8 515.8Z" fill="#e54035"/>
<path d="M245.2 515.8 C247.5 516.6 249.6 518.5 249.6 521.3 C249.6 524.3 247.5 527.8 245.1 529.8 L243.2 526.5 C244.2 523 244.8 519.5 245.2 515.8Z" fill="#e54035"/>
<path d="M233.6 529 L239.4 529 L237.6 530.2 L236.5 532.2 L235.4 530.2Z" fill="#e54035"/>
<path d="M311.2 552.8 L313.3 552.8 L319.5 558.6 L341 558.6 C344.5 558.8 346.6 560.5 346.6 561.6 C346.4 562.8 344 563.2 341 563.2 L332.5 563.2 L320.6 571.6 L318.6 571.3 L324.6 563.2 L317 563 C314 562.8 312.3 561.5 312 560.2Z" fill="#e54035"/>
<path d="M321.8 552.6 L324.2 552.6 L331.3 557.8 L325.7 558.3Z" fill="#e54035"/>
<path d="M331.5 566 L335.5 565.5 L336 567 L332 567.6Z M313 562.8 L315.5 562.6 L313.6 564.1Z M332.6 557.4 L334.2 556.8 L334.4 558.4Z" fill="#e54035"/>
<path d="M324 560.9 L337 560.9" stroke="#fff" stroke-width="0.9" stroke-dasharray="1 1.4"/>
<path d="M340.8 560.6 L343.2 560.6" stroke="#fff" stroke-width="0.8"/>
<rect x="407.2" y="498.3" width="9.5" height="14.5" rx="1" fill="#e54035"/>
<path d="M418.2 498.3 L427.8 498.3 L431.9 501.6 L430.3 502.5 L433 502.9 C433.8 503.3 434.2 504.5 434.2 506.5 L434.2 510.5 C434.2 512 433.3 512.8 431.5 512.8 L418.2 512.8Z" fill="#e54035"/>
<rect x="408" y="513.9" width="24.3" height="1" fill="#e54035" fill-opacity="0.8"/>
<ellipse cx="409.9" cy="502.6" rx="0.55" ry="1.8" fill="#fff" fill-opacity="0.85"/>
<ellipse cx="412.1" cy="502.6" rx="0.55" ry="1.8" fill="#fff" fill-opacity="0.85"/>
<ellipse cx="414.5" cy="502.6" rx="0.55" ry="1.8" fill="#fff" fill-opacity="0.85"/>
<ellipse cx="420.7" cy="502.6" rx="0.55" ry="1.8" fill="#fff" fill-opacity="0.85"/>
<ellipse cx="423" cy="502.6" rx="0.55" ry="1.8" fill="#fff" fill-opacity="0.85"/>
<ellipse cx="425.3" cy="502.6" rx="0.55" ry="1.8" fill="#fff" fill-opacity="0.85"/>
<ellipse cx="427.6" cy="502.6" rx="0.55" ry="1.8" fill="#fff" fill-opacity="0.85"/>
</svg>
<div class="a" style="left:124.5px;top:604.5px;width:40px;text-align:center;font-size:6.3px;letter-spacing:0.45px;line-height:8px;color:#e54035">百度</div>
<div class="a" style="left:216.63px;top:604.5px;width:40px;text-align:center;font-size:6.3px;letter-spacing:0.45px;line-height:8px;color:#e54035">直接访问</div>
<div class="a" style="left:308.76px;top:604.5px;width:40px;text-align:center;font-size:6.3px;letter-spacing:0.45px;line-height:8px;color:#e54035">坐飞机</div>
<div class="a" style="left:400.89px;top:604.5px;width:40px;text-align:center;font-size:6.3px;letter-spacing:0.45px;line-height:8px;color:#e54035">坐高铁</div>
<svg style="left:0;top:0" width="1024" height="660" viewBox="0 0 1024 660">
<path d="M729.6 530.8 L729.6 471.5 A59.3 59.3 0 0 1 734.87 471.73Z" fill="#5470c6"/>
<path d="M729.6 530.8 L734.87 471.73 A59.3 59.3 0 0 1 748.32 474.53Z" fill="#91cc75"/>
<path d="M729.6 530.8 L748.32 474.53 A59.3 59.3 0 0 1 763.02 481.81Z" fill="#fac858"/>
<path d="M729.6 530.8 L763.02 481.81 A59.3 59.3 0 0 1 766.11 484.07Z" fill="#ee6666"/>
<path d="M729.6 530.8 L766.11 484.07 A59.3 59.3 0 0 1 766.68 484.52Z" fill="#73c0de"/>
<path d="M729.6 530.8 L766.68 484.52 A59.3 59.3 0 0 1 772.04 489.38Z" fill="#3ba272"/>
<path d="M729.6 530.8 L772.04 489.38 A59.3 59.3 0 0 1 778.35 497.04Z" fill="#fc8452"/>
<path d="M729.6 530.8 L778.35 497.04 A59.3 59.3 0 0 1 778.53 497.3Z" fill="#9a60b4"/>
<path d="M729.6 530.8 L778.53 497.3 A59.3 59.3 0 0 1 781.76 502.6Z" fill="#ea7ccc"/>
<path d="M729.6 530.8 L781.76 502.6 A59.3 59.3 0 0 1 786.28 513.36Z" fill="#5470c6"/>
<path d="M729.6 530.8 L786.28 513.36 A59.3 59.3 0 0 1 786.4 513.76Z" fill="#91cc75"/>
<path d="M729.6 530.8 L786.4 513.76 A59.3 59.3 0 0 1 788.89 529.77Z" fill="#fac858"/>
<path d="M729.6 530.8 L788.89 529.77 A59.3 59.3 0 0 1 788.78 534.52Z" fill="#ee6666"/>
<path d="M729.6 530.8 L788.78 534.52 A59.3 59.3 0 0 1 786.46 547.64Z" fill="#73c0de"/>
<path d="M729.6 530.8 L786.46 547.64 A59.3 59.3 0 0 1 779.61 562.66Z" fill="#3ba272"/>
<path d="M729.6 530.8 L779.61 562.66 A59.3 59.3 0 0 1 777.64 565.57Z" fill="#fc8452"/>
<path d="M729.6 530.8 L777.64 565.57 A59.3 59.3 0 0 1 767.4 576.49Z" fill="#9a60b4"/>
<path d="M729.6 530.8 L767.4 576.49 A59.3 59.3 0 0 1 766.92 576.88Z" fill="#ea7ccc"/>
<path d="M729.6 530.8 L766.92 576.88 A59.3 59.3 0 0 1 755.22 584.28Z" fill="#5470c6"/>
<path d="M729.6 530.8 L755.22 584.28 A59.3 59.3 0 0 1 744.65 588.16Z" fill="#91cc75"/>
<path d="M729.6 530.8 L744.65 588.16 A59.3 59.3 0 0 1 734.36 589.91Z" fill="#fac858"/>
<path d="M729.6 530.8 L734.36 589.91 A59.3 59.3 0 0 1 721.55 589.55Z" fill="#ee6666"/>
<path d="M729.6 530.8 L721.55 589.55 A59.3 59.3 0 0 1 717.37 588.83Z" fill="#73c0de"/>
<path d="M729.6 530.8 L717.37 588.83 A59.3 59.3 0 0 1 715.25 588.34Z" fill="#3ba272"/>
<path d="M729.6 530.8 L715.25 588.34 A59.3 59.3 0 0 1 709.42 586.56Z" fill="#fc8452"/>
<path d="M729.6 530.8 L709.42 586.56 A59.3 59.3 0 0 1 707.87 585.97Z" fill="#9a60b4"/>
<path d="M729.6 530.8 L707.87 585.97 A59.3 59.3 0 0 1 701.4 582.96Z" fill="#ea7ccc"/>
<path d="M729.6 530.8 L701.4 582.96 A59.3 59.3 0 0 1 699.06 581.63Z" fill="#5470c6"/>
<path d="M729.6 530.8 L699.06 581.63 A59.3 59.3 0 0 1 685.81 570.79Z" fill="#91cc75"/>
<path d="M729.6 530.8 L685.81 570.79 A59.3 59.3 0 0 1 684.37 569.15Z" fill="#fac858"/>
<path d="M729.6 530.8 L684.37 569.15 A59.3 59.3 0 0 1 678.04 560.09Z" fill="#ee6666"/>
<path d="M729.6 530.8 L678.04 560.09 A59.3 59.3 0 0 1 673.88 551.08Z" fill="#73c0de"/>
<path d="M729.6 530.8 L673.88 551.08 A59.3 59.3 0 0 1 670.83 538.75Z" fill="#3ba272"/>
<path d="M729.6 530.8 L670.83 538.75 A59.3 59.3 0 0 1 670.31 529.77Z" fill="#fc8452"/>
<path d="M729.6 530.8 L670.31 529.77 A59.3 59.3 0 0 1 671.06 521.32Z" fill="#9a60b4"/>
<path d="M729.6 530.8 L671.06 521.32 A59.3 59.3 0 0 1 671.26 520.2Z" fill="#ea7ccc"/>
<path d="M729.6 530.8 L671.26 520.2 A59.3 59.3 0 0 1 675.34 506.87Z" fill="#5470c6"/>
<path d="M729.6 530.8 L675.34 506.87 A59.3 59.3 0 0 1 676.12 505.18Z" fill="#91cc75"/>
<path d="M729.6 530.8 L676.12 505.18 A59.3 59.3 0 0 1 681.63 495.94Z" fill="#fac858"/>
<path d="M729.6 530.8 L681.63 495.94 A59.3 59.3 0 0 1 684.64 492.13Z" fill="#ee6666"/>
<path d="M729.6 530.8 L684.64 492.13 A59.3 59.3 0 0 1 686.87 489.68Z" fill="#73c0de"/>
<path d="M729.6 530.8 L686.87 489.68 A59.3 59.3 0 0 1 698.7 480.18Z" fill="#3ba272"/>
<path d="M729.6 530.8 L698.7 480.18 A59.3 59.3 0 0 1 704.16 477.23Z" fill="#fc8452"/>
<path d="M729.6 530.8 L704.16 477.23 A59.3 59.3 0 0 1 710.39 474.7Z" fill="#9a60b4"/>
<path d="M729.6 530.8 L710.39 474.7 A59.3 59.3 0 0 1 713.06 473.85Z" fill="#ea7ccc"/>
<path d="M729.6 530.8 L713.06 473.85 A59.3 59.3 0 0 1 716.87 472.88Z" fill="#5470c6"/>
<path d="M729.6 530.8 L716.87 472.88 A59.3 59.3 0 0 1 718.49 472.55Z" fill="#91cc75"/>
<path d="M729.6 530.8 L718.49 472.55 A59.3 59.3 0 0 1 725.88 471.62Z" fill="#fac858"/>
<path d="M729.6 530.8 L725.88 471.62 A59.3 59.3 0 0 1 728.57 471.51Z" fill="#ee6666"/>
<path d="M729.6 530.8 L728.57 471.51 A59.3 59.3 0 0 1 729.6 471.5Z" fill="#73c0de"/>
<path d="M732.24 471.56 L732.8 459.8 L740.8 459.8" fill="none" stroke="#5470c6" stroke-width="0.65"/>
<path d="M741.68 472.74 L759.4 468.7 L767.4 468.7" fill="none" stroke="#91cc75" stroke-width="0.65"/>
<path d="M755.92 477.66 L771.1 477.2 L779.1 477.2" fill="none" stroke="#fac858" stroke-width="0.65"/>
<path d="M764.58 482.92 L778.9 485.5 L786.9 485.5" fill="none" stroke="#ee6666" stroke-width="0.65"/>
<path d="M766.39 484.29 L784.8 494.7 L792.8 494.7" fill="none" stroke="#73c0de" stroke-width="0.65"/>
<path d="M769.43 486.87 L788.9 503.2 L796.9 503.2" fill="none" stroke="#3ba272" stroke-width="0.65"/>
<path d="M775.36 493.08 L791.6 512.2 L799.6 512.2" fill="none" stroke="#fc8452" stroke-width="0.65"/>
<path d="M778.44 497.17 L793.5 520.9 L801.5 520.9" fill="none" stroke="#9a60b4" stroke-width="0.65"/>
<path d="M780.22 499.9 L793.5 529.8 L801.5 529.8" fill="none" stroke="#ea7ccc" stroke-width="0.65"/>
<path d="M784.29 507.87 L793.5 538.4 L801.5 538.4" fill="none" stroke="#5470c6" stroke-width="0.65"/>
<path d="M786.34 513.56 L793.5 547.1 L801.5 547.1" fill="none" stroke="#91cc75" stroke-width="0.65"/>
<path d="M788.19 521.68 L792.1 556.1 L800.1 556.1" fill="none" stroke="#fac858" stroke-width="0.65"/>
<path d="M788.88 532.15 L790.1 564.5 L798.1 564.5" fill="none" stroke="#ee6666" stroke-width="0.65"/>
<path d="M787.99 541.15 L788.3 572.7 L796.3 572.7" fill="none" stroke="#73c0de" stroke-width="0.65"/>
<path d="M783.56 555.39 L785.6 581.6 L793.6 581.6" fill="none" stroke="#3ba272" stroke-width="0.65"/>
<path d="M778.65 564.13 L782.3 591.2 L790.3 591.2" fill="none" stroke="#fc8452" stroke-width="0.65"/>
<path d="M772.86 571.36 L778 599.8 L786 599.8" fill="none" stroke="#9a60b4" stroke-width="0.65"/>
<path d="M767.16 576.69 L772.9 608.6 L780.9 608.6" fill="none" stroke="#ea7ccc" stroke-width="0.65"/>
<path d="M761.29 580.92 L766.2 617.2 L774.2 617.2" fill="none" stroke="#5470c6" stroke-width="0.65"/>
<path d="M750.03 586.47 L756.8 626 L764.8 626" fill="none" stroke="#91cc75" stroke-width="0.65"/>
<path d="M739.54 589.26 L740.7 634.7 L748.7 634.7" fill="none" stroke="#fac858" stroke-width="0.65"/>
<path d="M727.94 590.08 L728.2 634 L720.2 634" fill="none" stroke="#ee6666" stroke-width="0.65"/>
<path d="M719.46 589.23 L707.9 626.2 L699.9 626.2" fill="none" stroke="#73c0de" stroke-width="0.65"/>
<path d="M712.31 587.52 L691.5 612.2 L683.5 612.2" fill="none" stroke="#fc8452" stroke-width="0.65"/>
<path d="M704.59 584.57 L681.5 597.6 L673.5 597.6" fill="none" stroke="#ea7ccc" stroke-width="0.65"/>
<path d="M692.04 576.69 L675.1 583.6 L667.1 583.6" fill="none" stroke="#91cc75" stroke-width="0.65"/>
<path d="M680.99 564.77 L670.5 569 L662.5 569" fill="none" stroke="#ee6666" stroke-width="0.65"/>
<path d="M672.02 545 L667 555 L659 555" fill="none" stroke="#3ba272" stroke-width="0.65"/>
<path d="M671.16 520.76 L665.1 534 L657.1 534" fill="none" stroke="#ea7ccc" stroke-width="0.65"/>
<path d="M675.73 506.02 L666 519.6 L658 519.6" fill="none" stroke="#91cc75" stroke-width="0.65"/>
<path d="M683.09 494.01 L667.3 505.5 L659.3 505.5" fill="none" stroke="#ee6666" stroke-width="0.65"/>
<path d="M692.48 484.55 L670.2 491.8 L662.2 491.8" fill="none" stroke="#3ba272" stroke-width="0.65"/>
<path d="M707.24 475.88 L675 476.6 L667 476.6" fill="none" stroke="#9a60b4" stroke-width="0.65"/>
<path d="M714.95 473.34 L682.3 461.9 L674.3 461.9" fill="none" stroke="#5470c6" stroke-width="0.65"/>
<path d="M717.68 472.71 L687.9 452.5 L679.9 452.5" fill="none" stroke="#91cc75" stroke-width="0.65"/>
<path d="M722.17 471.97 L695.3 443.7 L687.3 443.7" fill="none" stroke="#fac858" stroke-width="0.65"/>
<path d="M727.22 471.55 L705.7 435.2 L697.7 435.2" fill="none" stroke="#ee6666" stroke-width="0.65"/>
<path d="M729.08 471.5 L729.9 426.7 L721.9 426.7" fill="none" stroke="#73c0de" stroke-width="0.65"/>
<defs><clipPath id="lg"><rect x="935" y="430" width="80" height="193"/></clipPath></defs><g clip-path="url(#lg)">
<rect x="940.9" y="436.2" width="13.6" height="7.4" rx="1.6" fill="#5470c6"/>
<rect x="940.9" y="449.1" width="13.6" height="7.4" rx="1.6" fill="#91cc75"/>
<rect x="940.9" y="462" width="13.6" height="7.4" rx="1.6" fill="#fac858"/>
<rect x="940.9" y="474.9" width="13.6" height="7.4" rx="1.6" fill="#ee6666"/>
<rect x="940.9" y="487.8" width="13.6" height="7.4" rx="1.6" fill="#73c0de"/>
<rect x="940.9" y="500.7" width="13.6" height="7.4" rx="1.6" fill="#3ba272"/>
<rect x="940.9" y="513.6" width="13.6" height="7.4" rx="1.6" fill="#fc8452"/>
<rect x="940.9" y="526.5" width="13.6" height="7.4" rx="1.6" fill="#9a60b4"/>
<rect x="940.9" y="539.4" width="13.6" height="7.4" rx="1.6" fill="#ea7ccc"/>
<rect x="940.9" y="552.3" width="13.6" height="7.4" rx="1.6" fill="#5470c6"/>
<rect x="940.9" y="565.2" width="13.6" height="7.4" rx="1.6" fill="#91cc75"/>
<rect x="940.9" y="578.1" width="13.6" height="7.4" rx="1.6" fill="#fac858"/>
<rect x="940.9" y="591" width="13.6" height="7.4" rx="1.6" fill="#ee6666"/>
<rect x="940.9" y="603.9" width="13.6" height="7.4" rx="1.6" fill="#73c0de"/>
<rect x="940.9" y="616.8" width="13.6" height="7.4" rx="1.6" fill="#3ba272"/>
</g>
<path d="M951.2 636.5 L958.8 636.5 L955 629Z" fill="#aaa"/>
<path d="M980 629 L988.3 629 L984.15 636.5Z" fill="#2f4554"/>
</svg>
<div class="a" style="left:744.3px;top:455.8px;font-size:6.45px;line-height:8px;color:#444">汤罗戴</div>
<div class="a" style="left:770.9px;top:464.7px;font-size:6.45px;line-height:8px;color:#444">史朱吕</div>
<div class="a" style="left:782.6px;top:473.2px;font-size:6.45px;line-height:8px;color:#444">秦彭施<span style="letter-spacing:-0.9px">·</span>孔</div>
<div class="a" style="left:790.4px;top:481.5px;font-size:6.45px;line-height:8px;color:#444">平庞唐</div>
<div class="a" style="left:796.3px;top:490.7px;font-size:6.45px;line-height:8px;color:#444">邬嵇陈<span style="letter-spacing:-0.9px">·</span>水奚</div>
<div class="a" style="left:800.4px;top:499.2px;font-size:6.45px;line-height:8px;color:#444">路顾唐</div>
<div class="a" style="left:803.1px;top:508.2px;font-size:6.45px;line-height:8px;color:#444">时郑</div>
<div class="a" style="left:805px;top:516.9px;font-size:6.45px;line-height:8px;color:#444">金郎俞<span style="letter-spacing:-0.9px">·</span>卫韦殷</div>
<div class="a" style="left:805px;top:525.8px;font-size:6.45px;line-height:8px;color:#444">魏时</div>
<div class="a" style="left:805px;top:534.4px;font-size:6.45px;line-height:8px;color:#444">张季</div>
<div class="a" style="left:805px;top:543.1px;font-size:6.45px;line-height:8px;color:#444">邵苏孔</div>
<div class="a" style="left:803.6px;top:552.1px;font-size:6.45px;line-height:8px;color:#444">祁鲁华</div>
<div class="a" style="left:801.6px;top:560.5px;font-size:6.45px;line-height:8px;color:#444">魏杨</div>
<div class="a" style="left:799.8px;top:568.7px;font-size:6.45px;line-height:8px;color:#444">平平</div>
<div class="a" style="left:797.1px;top:577.6px;font-size:6.45px;line-height:8px;color:#444">康宋和<span style="letter-spacing:-0.9px">·</span>任周</div>
<div class="a" style="left:793.8px;top:587.2px;font-size:6.45px;line-height:8px;color:#444">吕宋</div>
<div class="a" style="left:789.5px;top:595.8px;font-size:6.45px;line-height:8px;color:#444">项伍</div>
<div class="a" style="left:784.4px;top:604.6px;font-size:6.45px;line-height:8px;color:#444">尹云杜</div>
<div class="a" style="left:777.7px;top:613.2px;font-size:6.45px;line-height:8px;color:#444">伍戚周<span style="letter-spacing:-0.9px">·</span>童路</div>
<div class="a" style="left:768.3px;top:622px;font-size:6.45px;line-height:8px;color:#444">鄢尤</div>
<div class="a" style="left:752.2px;top:630.7px;font-size:6.45px;line-height:8px;color:#444">韦喜</div>
<div class="a" style="left:636.7px;top:630px;width:80px;text-align:right;font-size:6.45px;line-height:8px;color:#444">薛英</div>
<div class="a" style="left:616.4px;top:622.2px;width:80px;text-align:right;font-size:6.45px;line-height:8px;color:#444">柏潘</div>
<div class="a" style="left:600px;top:608.2px;width:80px;text-align:right;font-size:6.45px;line-height:8px;color:#444">汪曾</div>
<div class="a" style="left:590px;top:593.6px;width:80px;text-align:right;font-size:6.45px;line-height:8px;color:#444">钱宠雷<span style="letter-spacing:-0.9px">·</span>唐吴</div>
<div class="a" style="left:583.6px;top:579.6px;width:80px;text-align:right;font-size:6.45px;line-height:8px;color:#444">李鲍</div>
<div class="a" style="left:579px;top:565px;width:80px;text-align:right;font-size:6.45px;line-height:8px;color:#444">王尚祝</div>
<div class="a" style="left:575.5px;top:551px;width:80px;text-align:right;font-size:6.45px;line-height:8px;color:#444">乐孙</div>
<div class="a" style="left:573.6px;top:530px;width:80px;text-align:right;font-size:6.45px;line-height:8px;color:#444">贾姚</div>
<div class="a" style="left:574.5px;top:515.6px;width:80px;text-align:right;font-size:6.45px;line-height:8px;color:#444">赵成<span style="letter-spacing:-0.9px">·</span>周戚</div>
<div class="a" style="left:575.8px;top:501.5px;width:80px;text-align:right;font-size:6.45px;line-height:8px;color:#444">宋于许</div>
<div class="a" style="left:578.7px;top:487.8px;width:80px;text-align:right;font-size:6.45px;line-height:8px;color:#444">季贝<span style="letter-spacing:-0.9px">·</span>褚</div>
<div class="a" style="left:583.5px;top:472.6px;width:80px;text-align:right;font-size:6.45px;line-height:8px;color:#444">路魏祝</div>
<div class="a" style="left:590.8px;top:457.9px;width:80px;text-align:right;font-size:6.45px;line-height:8px;color:#444">喻韩史</div>
<div class="a" style="left:596.4px;top:448.5px;width:80px;text-align:right;font-size:6.45px;line-height:8px;color:#444">汤宪</div>
<div class="a" style="left:603.8px;top:439.7px;width:80px;text-align:right;font-size:6.45px;line-height:8px;color:#444">安潘鲁</div>
<div class="a" style="left:614.2px;top:431.2px;width:80px;text-align:right;font-size:6.45px;line-height:8px;color:#444">常尤华</div>
<div class="a" style="left:638.4px;top:422.7px;width:80px;text-align:right;font-size:6.45px;line-height:8px;color:#444">臧安<span style="letter-spacing:-0.9px">·</span>萧危喻</div>
<div class="a" style="left:935px;top:430px;width:80px;height:193px;overflow:hidden">
<div class="a" style="left:22.3px;top:5.9px;font-size:6.5px;letter-spacing:-0.2px;line-height:8px;color:#5a5a5a">汤罗戴</div>
<div class="a" style="left:22.3px;top:18.8px;font-size:6.5px;letter-spacing:-0.2px;line-height:8px;color:#5a5a5a">史朱吕</div>
<div class="a" style="left:22.3px;top:31.7px;font-size:6.5px;letter-spacing:-0.2px;line-height:8px;color:#5a5a5a">秦彭施<span style="letter-spacing:-0.9px">·</span>孔</div>
<div class="a" style="left:22.3px;top:44.6px;font-size:6.5px;letter-spacing:-0.2px;line-height:8px;color:#5a5a5a">平庞唐</div>
<div class="a" style="left:22.3px;top:57.5px;font-size:6.5px;letter-spacing:-0.2px;line-height:8px;color:#5a5a5a">邬嵇陈<span style="letter-spacing:-0.9px">·</span>水奚</div>
<div class="a" style="left:22.3px;top:70.4px;font-size:6.5px;letter-spacing:-0.2px;line-height:8px;color:#5a5a5a">路顾唐</div>
<div class="a" style="left:22.3px;top:83.3px;font-size:6.5px;letter-spacing:-0.2px;line-height:8px;color:#5a5a5a">时郑</div>
<div class="a" style="left:22.3px;top:96.2px;font-size:6.5px;letter-spacing:-0.2px;line-height:8px;color:#5a5a5a">金郎俞<span style="letter-spacing:-0.9px">·</span>卫韦殷</div>
<div class="a" style="left:22.3px;top:109.1px;font-size:6.5px;letter-spacing:-0.2px;line-height:8px;color:#5a5a5a">魏时</div>
<div class="a" style="left:22.3px;top:122px;font-size:6.5px;letter-spacing:-0.2px;line-height:8px;color:#5a5a5a">张季</div>
<div class="a" style="left:22.3px;top:134.9px;font-size:6.5px;letter-spacing:-0.2px;line-height:8px;color:#5a5a5a">邵苏孔</div>
<div class="a" style="left:22.3px;top:147.8px;font-size:6.5px;letter-spacing:-0.2px;line-height:8px;color:#5a5a5a">祁鲁华</div>
<div class="a" style="left:22.3px;top:160.7px;font-size:6.5px;letter-spacing:-0.2px;line-height:8px;color:#5a5a5a">魏杨</div>
<div class="a" style="left:22.3px;top:173.6px;font-size:6.5px;letter-spacing:-0.2px;line-height:8px;color:#5a5a5a">平平</div>
<div class="a" style="left:22.3px;top:186.5px;font-size:6.5px;letter-spacing:-0.2px;line-height:8px;color:#5a5a5a">康宋和<span style="letter-spacing:-0.9px">·</span>任周</div>
</div>
<div class="a" style="left:964.3px;top:628.5px;font-size:7px;line-height:8px;color:#333">1/4</div>
</body></html>
